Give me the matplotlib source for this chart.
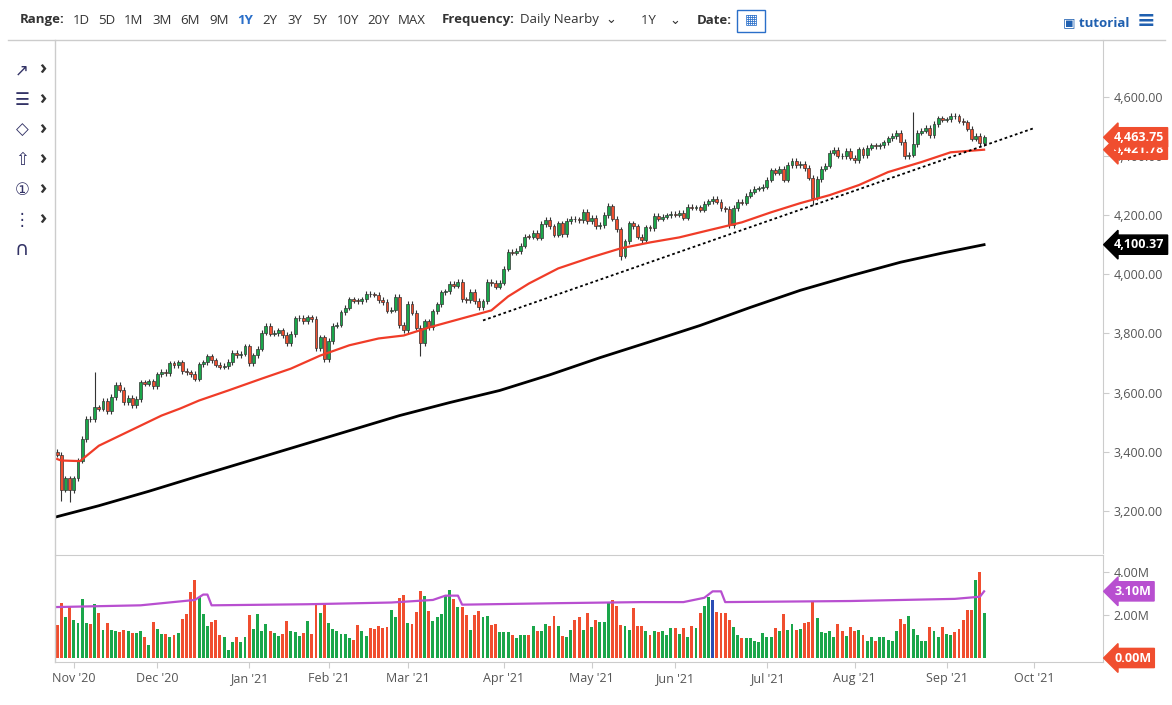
import matplotlib
matplotlib.use("Agg")
import matplotlib.pyplot as plt
import numpy as np

plt.rcParams['font.family'] = ['Open Sans', 'DejaVu Sans']

closes = [3390,3271,3310,3270,
3310,3370,3443,3510,3509,3550,3545,3572,3537,3585,3627,3610,3568,3582,3557,3578,3635,3630,3638,3622,
3662,3669,3666,3699,3692,3702,3673,3668,3663,3647,3695,3702,3722,3709,3694,3687,3690,3703,3735,3727,3732,3756,
3700,3726,3748,3803,3825,3799,3801,3810,3795,3768,3798,3851,3853,3841,3855,3849,3750,3787,3714,
3774,3826,3830,3871,3887,3915,3911,3910,3916,3934,3932,3931,3913,3906,3877,3881,3925,3829,3811,
3901,3870,3819,3768,3841,3821,3875,3898,3939,3943,3968,3962,3974,3915,3913,3940,3910,3889,3909,3974,3971,3958,3972,
4019,4077,4073,4079,4097,4128,4127,4141,4124,4170,4185,4163,4134,4173,4135,4180,4187,4186,4183,4211,4181,
4192,4164,4167,4201,4232,4188,4152,4063,4112,4173,4163,4128,4115,4159,4156,4197,4188,4195,4200,4204,
4202,4208,4192,4229,4226,4227,4219,4239,4247,4255,4246,4223,4221,4166,4224,4246,4242,4266,4280,4290,4291,4297,
4320,4352,4344,4358,4320,4370,4385,4369,4375,4360,4327,4259,4323,4358,4368,4412,4422,4401,4400,4419,4395,
4387,4423,4403,4429,4437,4433,4436,4447,4460,4468,4479,4448,4400,4405,4441,4479,4486,4496,4470,4509,4528,4523,
4524,4537,4535,4520,4514,4493,4459,4468,4443,4463.75]
first_open = 3400
high_override = {9: 3668, 133: 4238, 205: 4549}
low_override = {1: 3233, 3: 3230, 87: 3723, 135: 4050, 181: 4233}

z1 = [190,123,165,132,173,184,112,184,186,125,153,205,183,205,207,209,204,207,213,213,208,225,248,180,201,216,216,224,219,214,170,157,90,54,104,157,193,180,174,219,225,265,241,226,240,226,160,200,156,207,187,207,214,222,215,177,206,210,221,214,178,215,128,154,123,183,200,208,216,216,228,233,190,207,222,198,202,192,198,194,145,166,108,100,182,185,150,87,102,148,177,165,157,98,85,110,135,135,160,205,160,146,165,163,188,185,210,210,210,218,227,220,220,220,192,208,207,187]
z2 = [195,167,195,225,227,208,180,170,208,160,200,180,185,185,130,123,140,193,195,208,145,195,197,212,222,212,215,212,222,202,202,220,202,228,195,202,160,140,112,123,157,160,160,178,200,222,230,232,232,238,242,218,227,227,202,212,163,208,190,208,205,187,185,125,175,213,218,212,228,190,210,225,200,210,207,222,240,228,240,228,228,235,238,212,177,190,168,205,222,238,238,200,212,228,200,220,222,215,205,178,150,150,65,42,158]
volume_m = [round((288 - v) / 64.5, 2) for v in z1] + [round((288 - v) / 61.5, 2) for v in z2]
blue_idx = [157]

ma50_idx = [0,1,5.5,10,17.5,25,29.5,34,41,49,56,63,70,77,83,89,97,104,108,113,120,128,135,142,149,156,164,171,178,185,192,199,207,214,222]
ma50_val = [3375,3370,3368,3420,3471,3522,3546,3573,3607,3647,3681,3725,3760,3783,3793,3820,3851,3878,3925,3969,4020,4058,4088,4108,4125,4149,4176,4210,4241,4268,4302,4346,4380,4413,4421.78]
ma200_idx = [0,10,22,34,46,58,70,82,94,106,118,130,142,154,166,178,190,202,212,222]
ma200_val = [3180,3217,3266,3318,3369,3420,3471,3522,3566,3607,3660,3718,3772,3827,3888,3946,3995,4041,4072,4100.37]
avg_idx = [0,20,33,35,36,37,60,80,90,93,96,97,120,140,150,155,157,159,160,190,215,221,222]
avg_val = [2.37,2.45,2.7,2.95,2.95,2.45,2.5,2.58,2.7,2.9,2.9,2.48,2.55,2.6,2.6,2.8,3.1,3.1,2.6,2.65,2.75,2.85,3.10]
trend_idx = [102, 234]
trend_val = [3844, 4495]
months = ["Nov '20","Dec '20","Jan '21","Feb '21","Mar '21","Apr '21","May '21","Jun '21","Jul '21","Aug '21","Sep '21","Oct '21"]
month_idx = [4,24,46,65,84,107,128,148,170,191,213,234]

W, H = 1172, 705
fig = plt.figure(figsize=(W/100, H/100), dpi=100)
GREEN = '#1aa64a'; RED = '#f04e2f'

def fx(px): return px / W
def fy(py): return 1 - py / H

axp = fig.add_axes([fx(55), fy(553), fx(1103-55), (553-40)/H])
axv = fig.add_axes([fx(55), fy(662), fx(1103-55), (662-555)/H])
n = len(closes)
idx = np.arange(n)
opens = [first_open] + closes[:-1]
x0, x1 = -0.5, (1103-57)/4.176
for ax in (axp, axv):
    ax.set_xlim(x0, x1)
    for s in ['top', 'left']:
        ax.spines[s].set_visible(False)
    ax.spines['right'].set_color('#cccccc')
    ax.spines['bottom'].set_color('#cccccc')
    ax.yaxis.tick_right()
    ax.tick_params(axis='y', colors='#555555', labelsize=9, length=4, color='#cccccc')

for i in range(n):
    o, c = opens[i], closes[i]
    col = GREEN if c >= o else RED
    hi = high_override.get(i, max(o, c) + 9)
    lo = low_override.get(i, min(o, c) - 9)
    axp.vlines(i, lo, hi, color='#333333', lw=0.8, zorder=2)
    axp.bar(i, max(abs(c-o), 1.5), bottom=min(o, c), width=0.7, color=col, edgecolor='#333333', lw=0.5, zorder=3)

axp.plot(ma50_idx, ma50_val, color='#f03c28', lw=1.6, zorder=4)
axp.plot(ma200_idx, ma200_val, color='black', lw=2, zorder=4)
axp.plot(trend_idx, trend_val, color='black', lw=1.3, ls=(0, (1.5, 1.5)), zorder=4)
axp.set_ylim(3057, 4793)
axp.set_yticks([3200,3400,3600,3800,4000,4200,4400,4600])
axp.set_yticklabels(['3,200.00','3,400.00','3,600.00','3,800.00','4,000.00','4,200.00','4,400.00','4,600.00'])
axp.set_xticks([])
axp.spines['bottom'].set_visible(False)

def tag(ax, y, text, fc):
    ax.annotate(text, xy=(1.0, y), xycoords=('axes fraction', 'data'), xytext=(8, 0), textcoords='offset points',
                ha='left', va='center', fontsize=9, fontweight='bold', color='white',
                bbox=dict(boxstyle='larrow,pad=0.25', fc=fc, ec=fc), annotation_clip=False)

tag(axp, 4421.78, '4,421.78', RED)
tag(axp, 4463.75, '4,463.75', RED)
tag(axp, 4100.37, '4,100.37', 'black')

vcols = []
for i in range(n):
    if i in blue_idx: vcols.append('#2b4db5')
    else: vcols.append(GREEN if closes[i] >= opens[i] else RED)
axv.bar(idx, volume_m, width=0.7, color=vcols)
axv.plot(avg_idx, avg_val, color='#b84fd0', lw=1.6)
axv.set_ylim(-0.186, 4.79)
axv.set_yticks([2, 4]); axv.set_yticklabels(['2.00M', '4.00M'])
axv.set_xticks(month_idx); axv.set_xticklabels(months, fontsize=9, color='#555555')
axv.tick_params(axis='x', length=4, color='#cccccc')
axv.spines['top'].set_visible(True); axv.spines['top'].set_color('#cccccc')
tag(axv, 3.10, '3.10M', '#b84fd0')
tag(axv, 0.0, '0.00M', RED)

fig.add_artist(plt.Line2D([fx(55), fx(55)], [fy(40), fy(662)], color='#cccccc', lw=1))
fig.add_artist(plt.Line2D([fx(8), fx(1165)], [fy(40), fy(40)], color='#cccccc', lw=1))

fs = 9.5
fig.text(fx(20), fy(20), 'Range:', fontsize=fs, fontweight='bold', va='center', color='#333333')
xs = [73, 98, 124, 152, 180, 209, 237, 262, 287, 312, 337, 367, 398]
labs = ['1D','5D','1M','3M','6M','9M','1Y','2Y','3Y','5Y','10Y','20Y','MAX']
for x, l in zip(xs, labs):
    fig.text(fx(x), fy(20), l, fontsize=fs, va='center', color='#2a6fc9' if l == '1Y' else '#333333',
             fontweight='bold' if l == '1Y' else 'normal')
fig.text(fx(442), fy(20), 'Frequency:', fontsize=fs, fontweight='bold', va='center', color='#333333')
fig.text(fx(520), fy(20), 'Daily Nearby  ⌄', fontsize=fs, va='center', color='#333333')
fig.text(fx(641), fy(20), '1Y    ⌄', fontsize=fs, va='center', color='#333333')
fig.text(fx(697), fy(20), 'Date:', fontsize=fs, fontweight='bold', va='center', color='#333333')
fig.patches.append(plt.Rectangle((fx(737), fy(32)), fx(28), 22/H, transform=fig.transFigure, fill=False, ec='#2a6fc9', lw=1))
fig.text(fx(751), fy(20), '▦', fontsize=10, ha='center', va='center', color='#2a6fc9')
fig.text(fx(1063), fy(23), '▣ tutorial', fontsize=fs, fontweight='bold', va='center', color='#2060b0')
fig.text(fx(1146), fy(22), '≡', fontsize=16, fontweight='bold', ha='center', va='center', color='#2060b0')

icons = ['↗', '☰', '◇', '⇧', '①', '⋮']
for k, ic in enumerate(icons):
    y = 70 + 30*k
    fig.text(fx(22), fy(y), ic, fontsize=12, ha='center', va='center', color='#333366', family=['DejaVu Sans'])
    fig.text(fx(43), fy(y), '›', fontsize=14, fontweight='bold', ha='center', va='center', color='#333333')
fig.text(fx(22), fy(250), '∩', fontsize=14, ha='center', va='center', color='#333366')

fig.savefig('out.png', dpi=100)
